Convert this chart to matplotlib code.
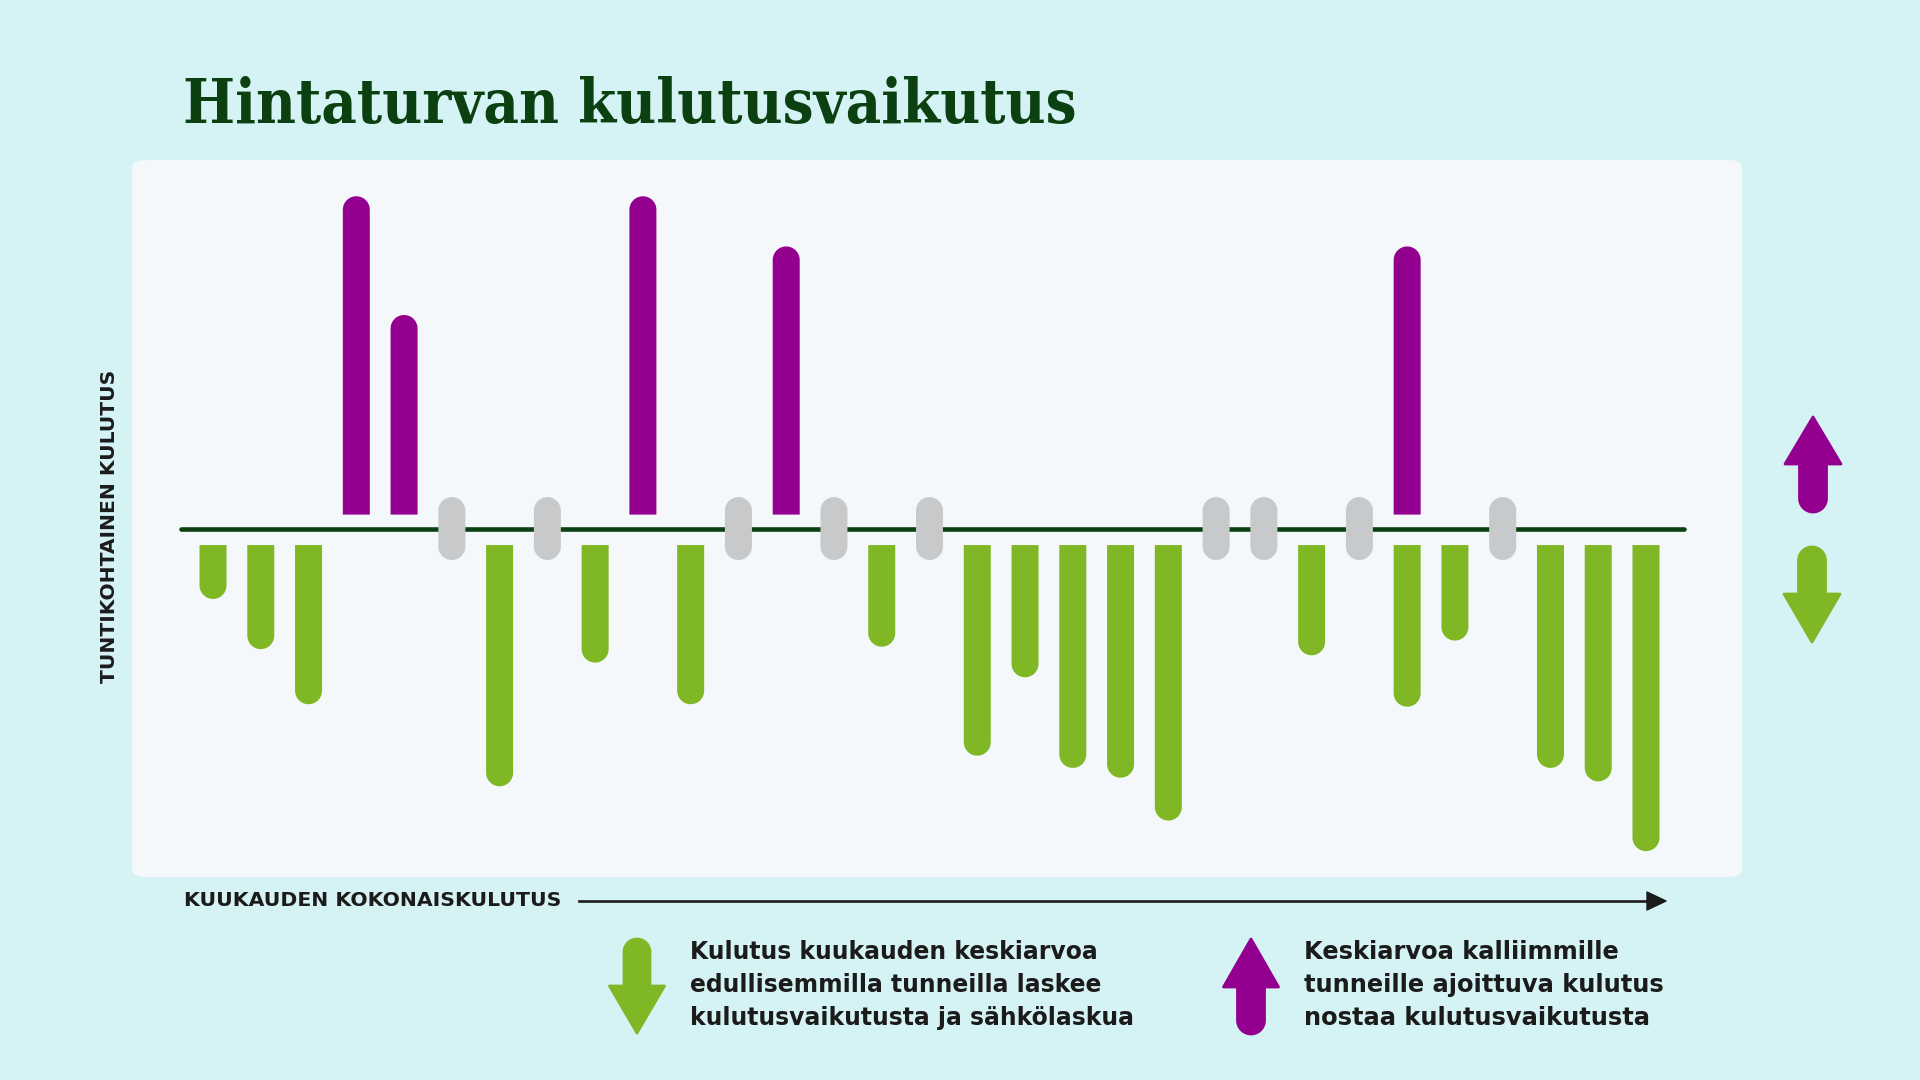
import matplotlib
matplotlib.use("Agg")
import matplotlib.pyplot as plt
from matplotlib.patches import Polygon, FancyBboxPatch
import numpy as np

# ---------------- data ----------------
tunnit = list(range(1, 32))
# consumption moved to more expensive hours (purple, up)
kalliit = [0, 0, 0, 260, 163, 0, 0, 0, 0, 260, 0, 0, 219, 0, 0, 0,
           0, 0, 0, 0, 0, 0, 0, 0, 0, 219, 0, 0, 0, 0, 0]
# consumption in cheaper hours (green, down)
edulliset = [-44, -85, -130, 0, 0, 0, -197, 0, -96, 0, -130, 0, 0, 0, -83, 0,
             -172, -108, -182, -190, -225, 0, 0, -90, 0, -132, -78, 0, -182, -193, -250]

title = "Hintaturvan kulutusvaikutus"
y_label = "TUNTIKOHTAINEN KULUTUS"
x_label = "KUUKAUDEN KOKONAISKULUTUS"
legend_down = ["Kulutus kuukauden keskiarvoa", "edullisemmilla tunneilla laskee",
               "kulutusvaikutusta ja sähkölaskua"]
legend_up = ["Keskiarvoa kalliimmille", "tunneille ajoittuva kulutus",
             "nostaa kulutusvaikutusta"]

# ---------------- style ----------------
W, H, DPI = 1920, 1080, 100
BG = "#D5F3F5"
PANEL = "#F4F8FA"
PURPLE = "#93008F"
GREEN = "#80B724"
GRAY = "#C8C9CB"
BASE = "#0B4010"
TEXT = "#1B1B1B"

fig = plt.figure(figsize=(W / DPI, H / DPI), dpi=DPI, facecolor=BG)

def fx(px):
    return px / W

def fy(py):
    return 1 - py / H

# panel
panel = FancyBboxPatch((fx(132), fy(877)), fx(1742) - fx(132), fy(160) - fy(877),
                       boxstyle="round,pad=0,rounding_size=0.007",
                       transform=fig.transFigure, fc=PANEL, ec="none", zorder=-5)
fig.patches.append(panel)

ax = fig.add_axes([fx(132), fy(877), fx(1742) - fx(132), fy(160) - fy(877)])
ax.set_zorder(2)
ax.set_facecolor("none")
ax.axis("off")
ax.set_xlim(-0.696, 33.01)
ax.set_ylim(-284.6, 301)

BAR_W_PX = 27
GAP_DOWN = 13.5
GAP_UP = 11.4
PILL_HALF = 25.7

def capsule(x, y0, y1, color, round0, round1, z=3):
    T = ax.transData
    X, Y0 = T.transform((x, y0))
    _, Y1 = T.transform((x, y1))
    r = BAR_W_PX / 2
    d = 1 if Y1 > Y0 else -1
    if round0:
        c = Y0 + d * r
        th = np.linspace(0, np.pi, 24)
        sp = [(X + r * np.cos(t), c - d * r * np.sin(t)) for t in th]
    else:
        sp = [(X + r, Y0), (X - r, Y0)]
    if round1:
        c = Y1 - d * r
        th = np.linspace(np.pi, 2 * np.pi, 24)
        ep = [(X + r * np.cos(t), c - d * r * np.sin(t)) for t in th]
    else:
        ep = [(X - r, Y1), (X + r, Y1)]
    data = T.inverted().transform(sp + ep)
    ax.add_patch(Polygon(data, closed=True, fc=color, ec="none", zorder=z))

# baseline
ax.plot([0.33, 31.8], [0, 0], color=BASE, lw=3.3, solid_capstyle="round", zorder=2)

for h, up, down in zip(tunnit, kalliit, edulliset):
    if up > 0:
        capsule(h, GAP_UP, GAP_UP + up, PURPLE, False, True)
    if down < 0:
        capsule(h, -GAP_DOWN, -GAP_DOWN + down, GREEN, False, True)
    if up == 0 and down == 0:
        capsule(h, -PILL_HALF, PILL_HALF, GRAY, True, True)

# ---------------- decorative arrows ----------------
def arrow_shape(xc, y_tail, y_tip, y_hb, shaft_w, head_w, color):
    d = 1 if y_tip > y_tail else -1
    r = shaft_w / 2
    c = y_tail + d * r
    pts = [(xc - r, y_hb), (xc - head_w / 2, y_hb), (xc, y_tip),
           (xc + head_w / 2, y_hb), (xc + r, y_hb)]
    th = np.linspace(0, np.pi, 24)
    pts += [(xc + r * np.cos(t), c - d * r * np.sin(t)) for t in th]
    pts = [(fx(a), fy(b)) for a, b in pts]
    fig.add_artist(Polygon(pts, closed=True, transform=fig.transFigure, fc=color,
                           ec=color, lw=2, joinstyle="round", zorder=5))

arrow_shape(1813, 512, 417, 464, 27, 56, PURPLE)
arrow_shape(1812, 547, 642, 594, 27, 56, GREEN)
arrow_shape(637, 939, 1033, 986, 26, 55, GREEN)
arrow_shape(1251, 1034, 939, 987, 27, 55, PURPLE)

# x-axis arrow
fig.add_artist(plt.Line2D([fx(579), fx(1652)], [fy(901), fy(901)], transform=fig.transFigure,
                          color=TEXT, lw=1.9, zorder=5))
fig.add_artist(Polygon([(fx(1647), fy(892)), (fx(1666), fy(901)), (fx(1647), fy(910))],
                       closed=True, transform=fig.transFigure, fc=TEXT, ec=TEXT, lw=1,
                       joinstyle="round", zorder=5))

# ---------------- texts ----------------
texts = []
t_title = fig.text(fx(183), fy(122.7), title, fontsize=40, fontweight="bold",
                   family="DejaVu Serif", fontstretch="condensed", color=BASE,
                   ha="left", va="baseline")
texts.append((t_title, 894, "w"))
t_y = fig.text(fx(110), fy(526), y_label, fontsize=14, fontweight="bold", family="DejaVu Sans",
               color=TEXT, rotation=90, ha="center", va="center")
texts.append((t_y, 313, "h"))
t_x = fig.text(fx(184), fy(901), x_label, fontsize=14, fontweight="bold", family="DejaVu Sans",
               color=TEXT, ha="left", va="center")
texts.append((t_x, 376, "w"))

leg_texts_l = []
leg_texts_r = []
for i, (a, b) in enumerate(zip(legend_down, legend_up)):
    yb = [959, 992, 1025][i]
    leg_texts_l.append(fig.text(fx(690), fy(yb), a, fontsize=17, fontweight="bold",
                                family="DejaVu Sans", color=TEXT, ha="left", va="baseline"))
    leg_texts_r.append(fig.text(fx(1304), fy(yb), b, fontsize=17, fontweight="bold",
                                family="DejaVu Sans", color=TEXT, ha="left", va="baseline"))

fig.canvas.draw()
r = fig.canvas.get_renderer()
for t, target, dim in texts:
    bb = t.get_window_extent(r)
    cur = bb.width if dim == "w" else bb.height
    t.set_fontsize(t.get_fontsize() * target / cur)
# legend fits
bb = leg_texts_l[0].get_window_extent(r)
s = 17 * 409 / bb.width
for t in leg_texts_l:
    t.set_fontsize(s)
bb = leg_texts_r[1].get_window_extent(r)
s = 17 * 362 / bb.width
for t in leg_texts_r:
    t.set_fontsize(s)

fig.savefig("out.png", dpi=DPI, facecolor=BG)
